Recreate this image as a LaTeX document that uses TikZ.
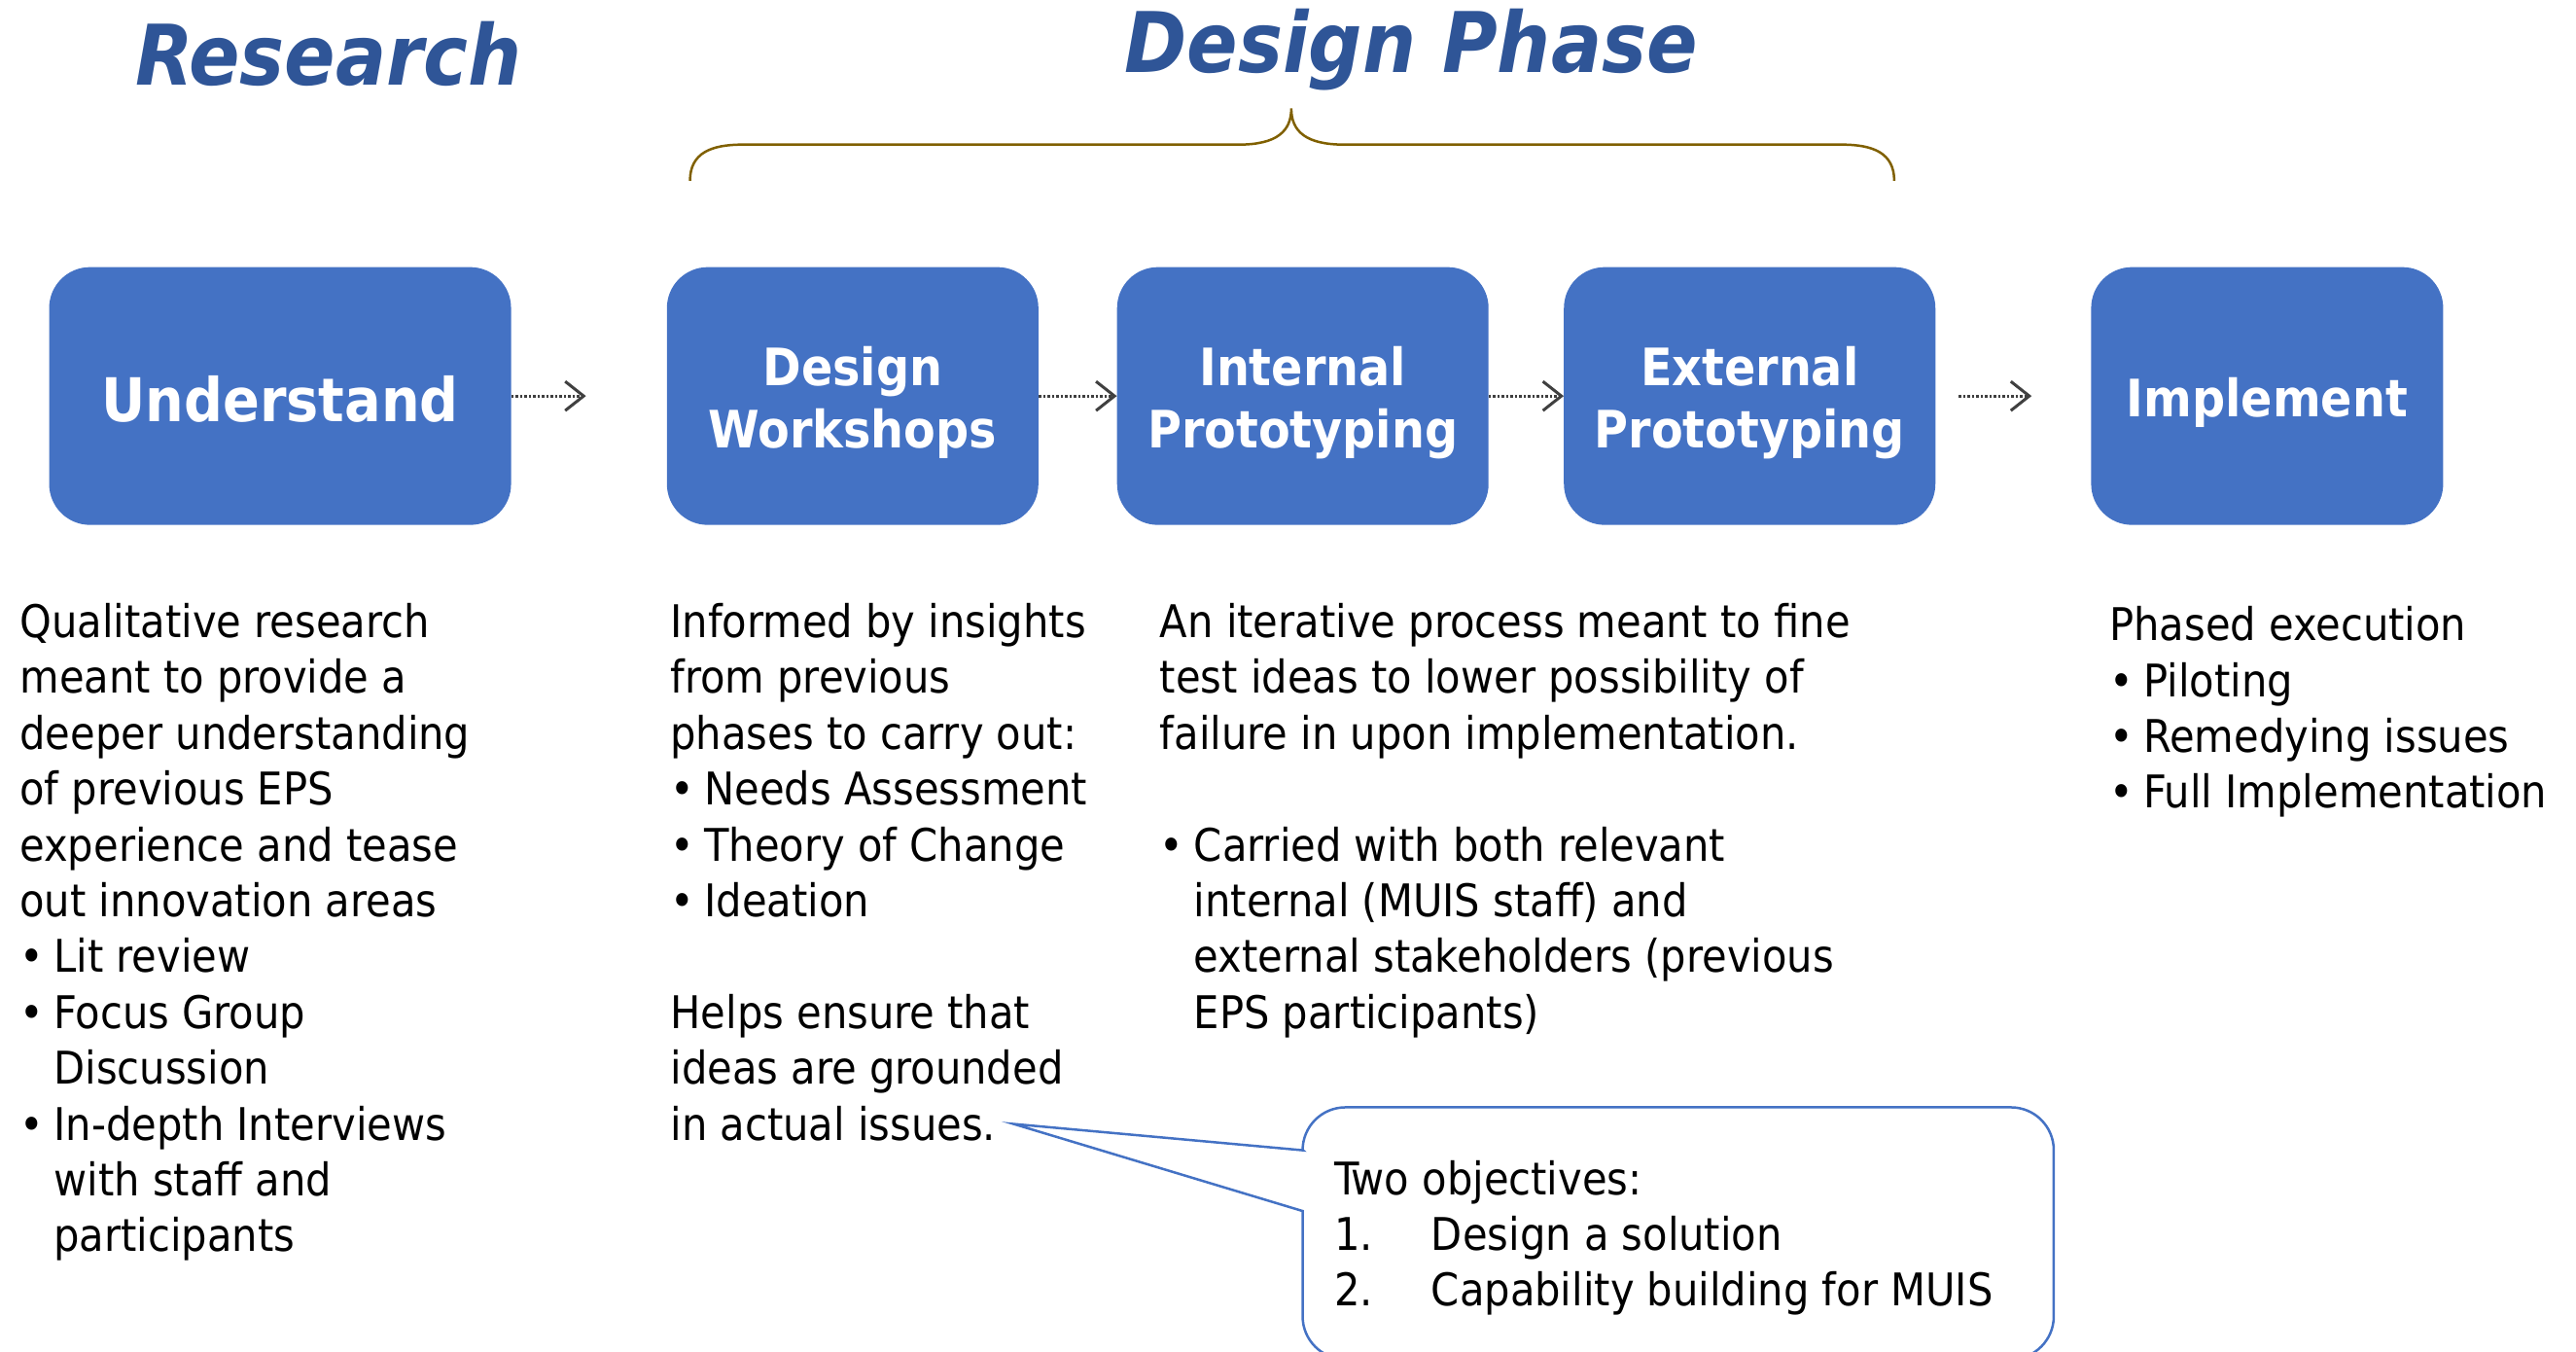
\documentclass[tikz,border=0pt]{standalone}
\usepackage{fontspec}
\setmainfont{DejaVu Sans Condensed}[
  BoldFont={DejaVu Sans Condensed Bold},
  ItalicFont={DejaVu Sans Condensed Oblique},
  BoldItalicFont={DejaVu Sans Condensed Bold Oblique}]
\usetikzlibrary{arrows.meta,calc}

\definecolor{titleblue}{HTML}{2F5597}
\definecolor{boxblue}{HTML}{4472C4}
\definecolor{bracegold}{HTML}{806000}
\definecolor{arrowgray}{HTML}{404040}

\newcommand{\bulmark}{\makebox[35pt][l]{•}}
\newcommand{\bulgap}{\hspace*{35pt}}
\newcommand{\nummark}[1]{\makebox[100pt][l]{#1}}
\newcommand{\boxstrut}{\rule{0pt}{54pt}}

\tikzset{
  stage/.style={fill=boxblue, rounded corners=42pt, minimum width=382pt,
    minimum height=265pt, text=white, align=center, inner sep=0pt,
    font=\bfseries\fontsize{53}{64}\selectfont},
  bodytext/.style={anchor=north west, align=left, inner sep=0pt,
    font=\fontsize{46.3}{57.4}\selectfont},
  phase/.style={titleblue, anchor=base, inner sep=0pt,
    font=\bfseries\itshape\fontsize{86}{100}\selectfont},
  flow/.style={arrowgray, line width=3pt, dash pattern=on 2.5pt off 2pt,
    -{Straight Barb[length=19pt,width=30pt]}},
  brace/.style={bracegold, line width=2.5pt},
  objline/.style={boxblue, line width=2.5pt, line join=miter}
}

\begin{document}
\begin{tikzpicture}[x=1.6894pt,y=-1.6894pt]
      \useasboundingbox (0,0) rectangle (1568,822.2);
      %
      \node[phase] (research) at (200,51.5) {Research};
      \node[phase] (design) at (859,44) {Design Phase};
      \draw[brace] (420,110) .. controls (420,93) and (433,88) .. (452,88)
        -- (754,88) .. controls (777,88) and (786,80) .. (786,66)
        .. controls (786,80) and (795,88) .. (818,88)
        -- (1121,88) .. controls (1140,88) and (1153,93) .. (1153,110);
      %
      \node[stage, minimum width=475pt, font=\bfseries\fontsize{62}{70}\selectfont]
        (und) at (170.5,241) {\boxstrut Understand};
      \node[stage] (dws) at (519,241) {\boxstrut Design\\Workshops};
      \node[stage] (ipt) at (793,241) {\boxstrut Internal\\Prototyping};
      \node[stage] (ept) at (1065,241) {\boxstrut External\\Prototyping};
      \node[stage, minimum width=362pt] (imp) at (1380,241) {\boxstrut Implement};
      %
      \draw[flow, shorten >=83pt] (und) -- (dws);
      \draw[flow] (dws) -- (ipt);
      \draw[flow] (ipt) -- (ept);
      \draw[flow, shorten <=24pt, shorten >=61pt] (ept) -- (imp);
      %
      \node[bodytext] (resdesc) at (12,367) {Qualitative research\\
        meant to provide a\\
        deeper understanding\\
        of previous EPS\\
        experience and tease\\
        out innovation areas\\
        \bulmark Lit review\\
        \bulmark Focus Group\\
        \bulgap Discussion\\
        \bulmark In-depth Interviews\\
        \bulgap with staff and\\
        \bulgap participants};
      \node[bodytext] (wsdesc) at (408,367) {Informed by insights\\
        from previous\\
        phases to carry out:\\
        \bulmark Needs Assessment\\
        \bulmark Theory of Change\\
        \bulmark Ideation\\[57.4pt]
        Helps ensure that\\
        ideas are grounded\\
        in actual issues.};
      \node[bodytext] (ptdesc) at (706,367) {An iterative process meant to fine\\
        test ideas to lower possibility of\\
        failure in upon implementation.\\[57.4pt]
        \bulmark Carried with both relevant\\
        \bulgap internal (MUIS staff) and\\
        \bulgap external stakeholders (previous\\
        \bulgap EPS participants)};
      \node[bodytext] (impdesc) at (1284,369) {Phased execution\\
        \bulmark Piloting\\
        \bulmark Remedying issues\\
        \bulmark Full Implementation};
      %
      \node[minimum width=772pt, minimum height=258.5pt] (obj) at (1021.5,750.5) {};
      \coordinate (tip) at (617,684);
      \coordinate (taila) at (793,700);
      \coordinate (tailb) at (793,737);
      \draw[objline] (tip) -- (taila)
        -- ($(obj.north west)+(0pt,-44pt)$) arc[start angle=180,end angle=90,radius=44pt]
        -- ($(obj.north east)+(-44pt,0pt)$) arc[start angle=90,end angle=0,radius=44pt]
        -- ($(obj.south east)+(0pt,44pt)$) arc[start angle=0,end angle=-90,radius=44pt]
        -- ($(obj.south west)+(44pt,0pt)$) arc[start angle=270,end angle=180,radius=44pt]
        -- (tailb) -- cycle;
      \node[bodytext] (objtxt) at (812,706) {Two objectives:\\
        \nummark{1.}Design a solution\\
        \nummark{2.}Capability building for MUIS};
\end{tikzpicture}
\end{document}
